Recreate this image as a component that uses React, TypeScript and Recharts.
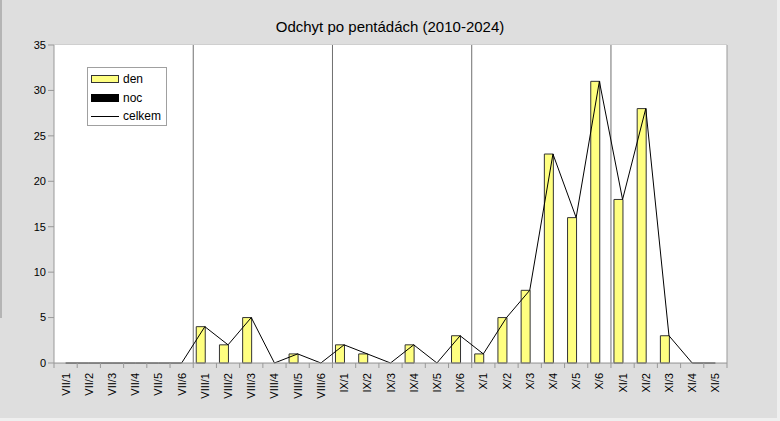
import {
  ComposedChart,
  Bar,
  Line,
  XAxis,
  YAxis,
  CartesianGrid,
  ReferenceLine,
  Legend,
} from 'recharts';

// pentády: VII/1 .. XI/5
const categories = [
  'VII/1', 'VII/2', 'VII/3', 'VII/4', 'VII/5', 'VII/6',
  'VIII/1', 'VIII/2', 'VIII/3', 'VIII/4', 'VIII/5', 'VIII/6',
  'IX/1', 'IX/2', 'IX/3', 'IX/4', 'IX/5', 'IX/6',
  'X/1', 'X/2', 'X/3', 'X/4', 'X/5', 'X/6',
  'XI/1', 'XI/2', 'XI/3', 'XI/4', 'XI/5',
];

const den = [
  0, 0, 0, 0, 0, 0,
  4, 2, 5, 0, 1, 0,
  2, 1, 0, 2, 0, 3,
  1, 5, 8, 23, 16, 31,
  18, 28, 3, 0, 0,
];

const noc = [
  0, 0, 0, 0, 0, 0,
  0, 0, 0, 0, 0, 0,
  0, 0, 0, 0, 0, 0,
  0, 0, 0, 0, 0, 0,
  0, 0, 0, 0, 0,
];

const yTicks = [0, 5, 10, 15, 20, 25, 30, 35];
const monthStarts = ['VIII/1', 'IX/1', 'X/1', 'XI/1'];

const data = categories.map((name, i) => ({
  name,
  den: den[i],
  noc: noc[i],
  celkem: den[i] + noc[i],
}));

const W = 780;
const H = 421;
const PLOT_LEFT = 54;
const PLOT_RIGHT = 727;
const BAND = (PLOT_RIGHT - PLOT_LEFT) / categories.length;
const FONT = 'Arial, "Liberation Sans", sans-serif';

function CatTick(props: any) {
  const { x, y, payload, index } = props;
  const half = BAND / 2;
  return (
    <g>
      <line x1={x - half} x2={x - half} y1={y} y2={y + 5} stroke="#999" />
      {index === categories.length - 1 && (
        <line x1={x + half} x2={x + half} y1={y} y2={y + 5} stroke="#999" />
      )}
      <text
        transform={`translate(${x + 4},${y + 10}) rotate(-90)`}
        textAnchor="end"
        fontSize={11}
        fontFamily={FONT}
        fill="#000"
      >
        {payload.value}
      </text>
    </g>
  );
}

function LegendBox() {
  const row = (swatch: any, label: string) => (
    <div style={{ display: 'flex', alignItems: 'center', height: 18.5 }}>
      <div style={{ width: 28, display: 'flex', alignItems: 'center' }}>{swatch}</div>
      <span style={{ marginLeft: 4 }}>{label}</span>
    </div>
  );
  return (
    <div
      style={{
        width: 80,
        height: 59,
        border: '1px solid #a0a0a0',
        background: '#fff',
        fontFamily: FONT,
        fontSize: 12,
        color: '#000',
        padding: '2px 0 0 3px',
        boxSizing: 'border-box',
        lineHeight: '14px',
      }}
    >
      {row(<div style={{ width: 26, height: 6, background: '#ffff80', border: '1px solid #333' }} />, 'den')}
      {row(<div style={{ width: 28, height: 8, background: '#000' }} />, 'noc')}
      {row(<div style={{ width: 28, height: 1, background: '#000' }} />, 'celkem')}
    </div>
  );
}

export default function App() {
  return (
    <div
      style={{
        position: 'absolute',
        left: 0,
        top: 0,
        width: W,
        height: H,
        background: '#efefef',
        overflow: 'hidden',
      }}
    >
      <div
        style={{
          position: 'absolute',
          left: 0,
          top: 0,
          width: 777,
          height: 418,
          background: '#dedede',
        }}
      />
      <div
        style={{
          position: 'absolute',
          left: 0,
          top: 0,
          width: 2,
          height: 318,
          background: '#b4b4b4',
        }}
      />
      <div
        style={{
          position: 'absolute',
          left: 0,
          top: 18,
          width: W,
          textAlign: 'center',
          fontFamily: FONT,
          fontSize: 15,
          color: '#000',
        }}
      >
        Odchyt po pentádách (2010-2024)
      </div>
      <div style={{ position: 'absolute', left: 0, top: 0 }}>
        <ComposedChart
          width={W}
          height={H}
          data={data}
          margin={{ top: 45, right: 0, bottom: 0, left: 0 }}
          barGap={0}
          barSize={9}
        >
          <rect x={PLOT_LEFT} y={45} width={PLOT_RIGHT - PLOT_LEFT} height={318} fill="#fff" />
          <CartesianGrid vertical={false} stroke="#c0c0c0" yAxisId="left" />
          <XAxis
            dataKey="name"
            interval={0}
            height={58}
            tickLine={false}
            tickSize={0}
            tickMargin={0}
            axisLine={{ stroke: '#999' }}
            tick={<CatTick />}
          />
          <YAxis
            yAxisId="left"
            width={PLOT_LEFT}
            domain={[0, 35]}
            ticks={yTicks}
            interval={0}
            axisLine={{ stroke: '#999' }}
            tickLine={{ stroke: '#999' }}
            tickSize={6}
            tickMargin={2}
            tick={{ fill: '#000', fontSize: 11, fontFamily: FONT }}
          />
          <YAxis
            yAxisId="right"
            orientation="right"
            width={W - PLOT_RIGHT}
            domain={[0, 35]}
            ticks={yTicks}
            interval={0}
            axisLine={{ stroke: '#999' }}
            tickLine={{ stroke: '#999' }}
            tickSize={6}
            tickMargin={2}
            tick={{ fill: '#000', fontSize: 11, fontFamily: FONT }}
          />
          {monthStarts.map((m) => (
            <ReferenceLine key={m} x={m} yAxisId="left" position="start" stroke="#707070" />
          ))}
          <Legend
            layout="vertical"
            align="center"
            verticalAlign="middle"
            wrapperStyle={{ left: 87, top: 67, width: 80, height: 59 }}
            content={() => <LegendBox />}
          />
          <Bar
            yAxisId="left"
            dataKey="den"
            name="den"
            fill="#ffff80"
            stroke="#333"
            strokeWidth={1}
            isAnimationActive={false}
          />
          <Bar
            yAxisId="left"
            dataKey="noc"
            name="noc"
            fill="#000"
            isAnimationActive={false}
          />
          <Line
            yAxisId="left"
            type="linear"
            dataKey="celkem"
            name="celkem"
            stroke="#000"
            strokeWidth={1}
            dot={false}
            activeDot={false}
            isAnimationActive={false}
          />
        </ComposedChart>
      </div>
    </div>
  );
}
